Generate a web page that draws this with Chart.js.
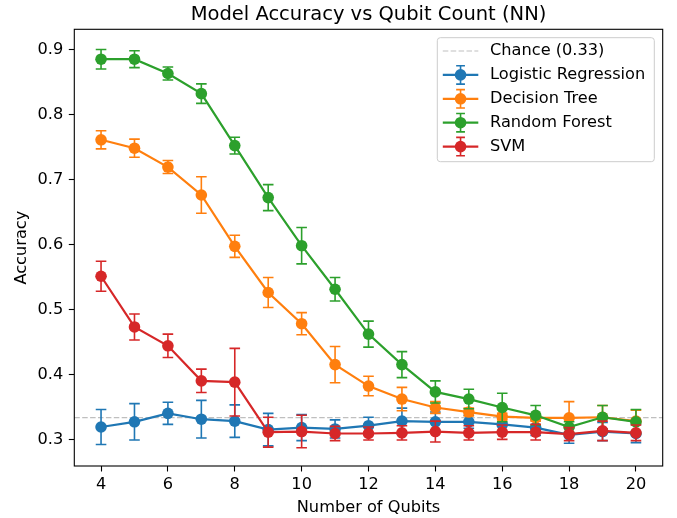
<!DOCTYPE html>
<html lang="en">
<head>
  <meta charset="UTF-8" />
  <title>Model Accuracy vs Qubit Count (NN)</title>
  <script src="https://cdn.jsdelivr.net/npm/chart.js"></script>
  <style>
    html, body { margin: 0; padding: 0; background: #fff; }
    #chart-wrapper { width: 677px; height: 518px; }
  </style>
</head>
<body>
  <div id="chart-wrapper">
    <canvas id="chart" width="677" height="518"></canvas>
  </div>
  <script>
    // data
    const qubits = [4, 5, 6, 7, 8, 9, 10, 11, 12, 13, 14, 15, 16, 17, 18, 19, 20];
    const xTicks = [4, 6, 8, 10, 12, 14, 16, 18, 20];
    const yTicks = [0.3, 0.4, 0.5, 0.6, 0.7, 0.8, 0.9];
    const chance = 1 / 3;

    const logRegMean = [0.319, 0.327, 0.340, 0.331, 0.328, 0.315, 0.318, 0.316, 0.321, 0.328, 0.327, 0.327, 0.323, 0.318, 0.307, 0.312, 0.309];
    const logRegErr  = [0.027, 0.028, 0.017, 0.029, 0.025, 0.025, 0.020, 0.014, 0.013, 0.020, 0.015, 0.010, 0.012, 0.012, 0.013, 0.014, 0.014];

    const treeMean = [0.761, 0.748, 0.719, 0.676, 0.597, 0.526, 0.478, 0.415, 0.382, 0.362, 0.349, 0.342, 0.335, 0.333, 0.333, 0.334, 0.328];
    const treeErr  = [0.014, 0.014, 0.010, 0.028, 0.017, 0.023, 0.017, 0.028, 0.015, 0.018, 0.009, 0.006, 0.005, 0.005, 0.025, 0.018, 0.017];

    const forestMean = [0.885, 0.885, 0.863, 0.832, 0.752, 0.672, 0.598, 0.531, 0.462, 0.415, 0.373, 0.362, 0.349, 0.337, 0.319, 0.334, 0.327];
    const forestErr  = [0.015, 0.013, 0.010, 0.015, 0.013, 0.020, 0.028, 0.018, 0.020, 0.020, 0.017, 0.015, 0.022, 0.015, 0.008, 0.018, 0.019];

    const svmMean = [0.551, 0.473, 0.444, 0.390, 0.388, 0.311, 0.312, 0.309, 0.309, 0.310, 0.312, 0.310, 0.311, 0.311, 0.308, 0.313, 0.310];
    const svmErr  = [0.023, 0.020, 0.018, 0.018, 0.052, 0.023, 0.025, 0.011, 0.010, 0.011, 0.016, 0.011, 0.011, 0.012, 0.010, 0.015, 0.012];

    const FONT = "'DejaVu Sans', sans-serif";
    const CAP = 5.3;

    function series(label, color, means, errs, order) {
      return {
        label,
        data: qubits.map((q, i) => ({ x: q, y: means[i] })),
        errors: errs,
        borderColor: color,
        backgroundColor: color,
        pointBackgroundColor: color,
        pointBorderWidth: 0,
        pointRadius: 5.8,
        borderWidth: 2.2,
        tension: 0,
        order
      };
    }

    const datasets = [
      series("Logistic Regression", "#1f77b4", logRegMean, logRegErr, 4),
      series("Decision Tree", "#ff7f0e", treeMean, treeErr, 3),
      series("Random Forest", "#2ca02c", forestMean, forestErr, 2),
      series("SVM", "#d62728", svmMean, svmErr, 1)
    ];

    // error bars go under each series' own line and markers
    const errorBars = {
      id: "errorBars",
      beforeDatasetDraw(chart, args) {
        const ds = chart.data.datasets[args.index];
        if (!ds.errors) return;
        const xs = chart.scales.x, ys = chart.scales.y, ctx = chart.ctx;
        ctx.save();
        ctx.strokeStyle = ds.borderColor;
        ctx.lineWidth = 1.6;
        ds.data.forEach((p, i) => {
          const px = xs.getPixelForValue(p.x);
          const top = ys.getPixelForValue(p.y + ds.errors[i]);
          const bot = ys.getPixelForValue(p.y - ds.errors[i]);
          ctx.beginPath();
          ctx.moveTo(px, top); ctx.lineTo(px, bot);
          ctx.moveTo(px - CAP, top); ctx.lineTo(px + CAP, top);
          ctx.moveTo(px - CAP, bot); ctx.lineTo(px + CAP, bot);
          ctx.stroke();
        });
        ctx.restore();
      }
    };

    const chanceLine = {
      id: "chanceLine",
      beforeDatasetsDraw(chart) {
        const { ctx, chartArea } = chart;
        const y = chart.scales.y.getPixelForValue(chance);
        ctx.save();
        ctx.strokeStyle = "rgba(128,128,128,0.5)";
        ctx.lineWidth = 1.2;
        ctx.setLineDash([5.5, 2.4]);
        ctx.beginPath();
        ctx.moveTo(chartArea.left, y);
        ctx.lineTo(chartArea.right, y);
        ctx.stroke();
        ctx.restore();
      }
    };

    const frameTitleLegend = {
      id: "frameTitleLegend",
      afterDatasetsDraw(chart) {
        const { ctx, chartArea: a } = chart;
        ctx.save();
        ctx.strokeStyle = "#000";
        ctx.lineWidth = 1.1;
        ctx.strokeRect(a.left, a.top, a.right - a.left, a.bottom - a.top);
        ctx.restore();
      },
      afterDraw(chart) {
        const { ctx, chartArea: a } = chart;
        ctx.save();
        // title, centred over the axes
        ctx.fillStyle = "#000";
        ctx.font = "19.5px " + FONT;
        ctx.textAlign = "center";
        ctx.textBaseline = "alphabetic";
        ctx.fillText("Model Accuracy vs Qubit Count (NN)", (a.left + a.right) / 2, 20);

        // legend box, upper right
        const bx = a.right - 225.4, by = a.top + 8.4, bw = 217, bh = 124;
        ctx.fillStyle = "rgba(255,255,255,0.8)";
        ctx.strokeStyle = "#cccccc";
        ctx.lineWidth = 1;
        ctx.beginPath();
        ctx.roundRect(bx, by, bw, bh, 3);
        ctx.fill();
        ctx.stroke();

        const rows = [{ label: "Chance (0.33)", color: null }].concat(
          datasets.map(d => ({ label: d.label, color: d.borderColor })));
        const hx0 = bx + 5.5, hx1 = bx + 41, hxm = (hx0 + hx1) / 2;
        ctx.font = "16.2px " + FONT;
        ctx.textAlign = "left";
        ctx.textBaseline = "middle";
        rows.forEach((r, i) => {
          const ry = by + 13.3 + i * 23.9;
          ctx.save();
          if (r.color === null) {
            ctx.strokeStyle = "rgba(128,128,128,0.5)";
            ctx.lineWidth = 1.2;
            ctx.setLineDash([5.5, 2.4]);
            ctx.beginPath(); ctx.moveTo(hx0, ry); ctx.lineTo(hx1, ry); ctx.stroke();
          } else {
            ctx.strokeStyle = r.color;
            ctx.lineWidth = 2.2;
            ctx.beginPath(); ctx.moveTo(hx0, ry); ctx.lineTo(hx1, ry); ctx.stroke();
            ctx.lineWidth = 1.6;
            ctx.beginPath();
            ctx.moveTo(hxm, ry - 9.2); ctx.lineTo(hxm, ry + 9.2);
            ctx.moveTo(hxm - 4.4, ry - 9.2); ctx.lineTo(hxm + 4.4, ry - 9.2);
            ctx.moveTo(hxm - 4.4, ry + 9.2); ctx.lineTo(hxm + 4.4, ry + 9.2);
            ctx.stroke();
            ctx.fillStyle = r.color;
            ctx.beginPath(); ctx.arc(hxm, ry, 5.8, 0, Math.PI * 2); ctx.fill();
          }
          ctx.restore();
          ctx.fillStyle = "#000";
          ctx.fillText(r.label, bx + 52.7, ry);
        });
        ctx.restore();
      }
    };

    const tickFont = { family: FONT, size: 16.2 };

    new Chart(document.getElementById("chart").getContext("2d"), {
      type: "line",
      data: { datasets },
      options: {
        responsive: false,
        animation: false,
        layout: { padding: { left: 0, right: 14.3, top: 29.3, bottom: 0 } },
        plugins: { legend: { display: false }, tooltip: { enabled: false } },
        scales: {
          x: {
            type: "linear",
            min: 3.2,
            max: 20.8,
            afterBuildTicks: s => { s.ticks = xTicks.map(v => ({ value: v })); },
            afterFit: s => { s.height = 52; },
            grid: { drawOnChartArea: false, drawTicks: true, tickLength: 5.5, tickColor: "#000", tickWidth: 1.1 },
            border: { display: false },
            ticks: { color: "#000", font: tickFont, padding: 4, maxRotation: 0 },
            title: { display: true, text: "Number of Qubits", color: "#000", font: tickFont, padding: { top: 0, bottom: 0 } }
          },
          y: {
            type: "linear",
            min: 0.259,
            max: 0.931,
            afterBuildTicks: s => { s.ticks = yTicks.map(v => ({ value: v })); },
            afterFit: s => { s.width = 74.3; },
            grid: { drawOnChartArea: false, drawTicks: true, tickLength: 5.5, tickColor: "#000", tickWidth: 1.1 },
            border: { display: false },
            ticks: { color: "#000", font: tickFont, padding: 5.5, callback: v => v.toFixed(1) },
            title: { display: true, text: "Accuracy", color: "#000", font: tickFont, padding: { top: 12.3, bottom: 0 } }
          }
        }
      },
      plugins: [errorBars, chanceLine, frameTitleLegend]
    });
  </script>
</body>
</html>
